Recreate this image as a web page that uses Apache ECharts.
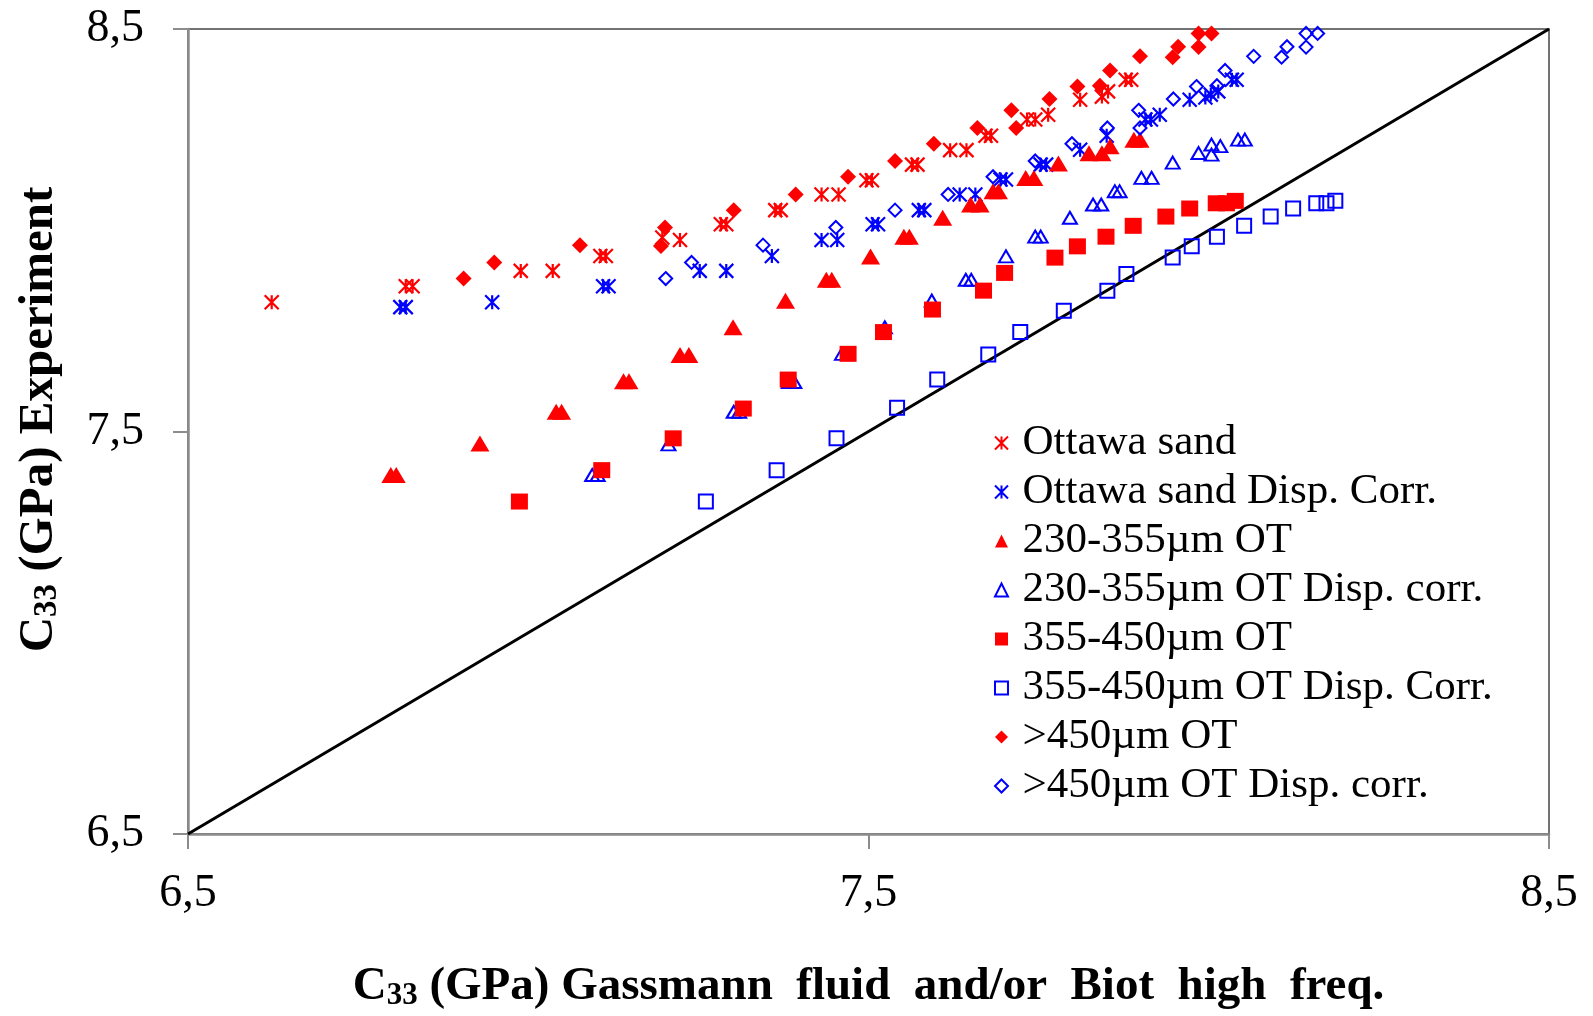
<!DOCTYPE html>
<html><head><meta charset="utf-8">
<script src="https://cdn.jsdelivr.net/npm/echarts@6/dist/echarts.min.js"></script>
<style>html,body{margin:0;padding:0;background:#fff}#c{width:1593px;height:1016px}</style>
</head><body><div id="c"></div>
<script>
// ---- data (x: Gassmann/Biot C33, y: experiment C33, GPa) ----
const seriesNames = ['Ottawa sand','Ottawa sand Disp. Corr.','230-355µm OT','230-355µm OT Disp. corr.','355-450µm OT','355-450µm OT Disp. Corr.','>450µm OT','>450µm OT Disp. corr.'];
const axisTicks = [6.5, 7.5, 8.5];
const identityLine = [[6.5,6.5],[8.5,8.5]];

const ottawaSand = [[6.623,7.821],[6.820,7.861],[6.830,7.861],[6.989,7.899],[7.036,7.899],[7.106,7.936],[7.114,7.936],[7.197,7.982],[7.223,7.976],[7.283,8.015],[7.291,8.015],[7.363,8.050],[7.371,8.050],[7.431,8.089],[7.456,8.089],[7.497,8.124],[7.505,8.124],[7.564,8.163],[7.572,8.163],[7.620,8.199],[7.644,8.199],[7.672,8.235],[7.680,8.235],[7.733,8.275],[7.745,8.275],[7.764,8.287],[7.811,8.324],[7.843,8.332],[7.852,8.345],[7.878,8.374],[7.886,8.374]];
const ottawaSandCorr = [[6.812,7.809],[6.820,7.809],[6.947,7.821],[7.110,7.861],[7.118,7.861],[7.252,7.899],[7.291,7.899],[7.358,7.936],[7.431,7.976],[7.454,7.976],[7.506,8.015],[7.514,8.015],[7.574,8.050],[7.582,8.050],[7.634,8.089],[7.657,8.089],[7.694,8.126],[7.702,8.126],[7.753,8.163],[7.761,8.163],[7.811,8.200],[7.850,8.235],[7.907,8.275],[7.915,8.275],[7.928,8.287],[7.972,8.324],[7.995,8.330],[8.003,8.337],[8.014,8.345],[8.034,8.374],[8.041,8.374]];
const ot230 = [[6.798,7.392],[6.806,7.392],[6.929,7.470],[7.041,7.549],[7.049,7.549],[7.140,7.625],[7.148,7.625],[7.223,7.690],[7.236,7.690],[7.301,7.759],[7.378,7.825],[7.438,7.877],[7.446,7.877],[7.503,7.935],[7.552,7.984],[7.560,7.984],[7.609,8.031],[7.650,8.064],[7.664,8.064],[7.683,8.097],[7.691,8.097],[7.731,8.130],[7.743,8.130],[7.779,8.166],[7.824,8.191],[7.843,8.191],[7.855,8.209],[7.890,8.225],[7.899,8.225]];
const ot230Corr = [[7.094,7.392],[7.102,7.392],[7.206,7.468],[7.302,7.549],[7.310,7.549],[7.383,7.623],[7.391,7.623],[7.461,7.693],[7.524,7.759],[7.593,7.825],[7.643,7.877],[7.651,7.877],[7.702,7.935],[7.745,7.984],[7.753,7.984],[7.796,8.031],[7.830,8.064],[7.842,8.064],[7.862,8.097],[7.869,8.097],[7.901,8.130],[7.916,8.130],[7.947,8.168],[7.985,8.192],[8.004,8.188],[8.004,8.213],[8.017,8.209],[8.043,8.225],[8.053,8.225]];
const ot355 = [[6.987,7.326],[7.108,7.404],[7.213,7.483],[7.316,7.557],[7.382,7.629],[7.470,7.693],[7.522,7.747],[7.594,7.803],[7.669,7.850],[7.700,7.894],[7.774,7.932],[7.807,7.960],[7.849,7.984],[7.889,8.011],[7.937,8.034],[7.972,8.054],[8.011,8.067],[8.026,8.067],[8.039,8.073]];
const ot355Corr = [[7.261,7.326],[7.365,7.404],[7.453,7.483],[7.542,7.559],[7.601,7.629],[7.676,7.691],[7.723,7.747],[7.787,7.800],[7.851,7.850],[7.879,7.891],[7.947,7.932],[7.975,7.960],[8.012,7.984],[8.052,8.011],[8.091,8.034],[8.124,8.054],[8.158,8.067],[8.173,8.067],[8.186,8.073]];
const ot450 = [[6.905,7.880],[6.950,7.920],[7.076,7.963],[7.195,7.961],[7.201,8.007],[7.302,8.050],[7.393,8.089],[7.470,8.133],[7.539,8.172],[7.596,8.215],[7.660,8.254],[7.710,8.298],[7.717,8.254],[7.766,8.326],[7.807,8.357],[7.840,8.359],[7.855,8.397],[7.899,8.432],[7.947,8.430],[7.955,8.456],[7.985,8.455],[7.985,8.489],[8.004,8.489]];
const ot450Corr = [[7.202,7.880],[7.240,7.920],[7.345,7.963],[7.452,8.007],[7.539,8.050],[7.617,8.089],[7.683,8.133],[7.745,8.172],[7.799,8.215],[7.851,8.254],[7.897,8.298],[7.899,8.254],[7.948,8.326],[7.982,8.357],[8.012,8.359],[8.024,8.397],[8.066,8.432],[8.107,8.430],[8.115,8.456],[8.143,8.455],[8.143,8.489],[8.160,8.489]];

const SERIF = "'Liberation Serif','Times New Roman',serif";
const RED = '#ff0000', BLUE = '#0000ff';
const ASTER = 'path://M0,0L10,10M10,0L0,10M5,0L5,10';
const TRI = 'path://M0,10L5,0L10,10Z';
const SQR = 'path://M0,0L10,0L10,10L0,10Z';
const DIA = 'path://M5,0L10,5L5,10L0,5Z';

function filled(name, data, symbol, size, color){
  return {name, type:'scatter', data, symbol, symbolSize:size, itemStyle:{color, borderWidth:0, opacity:1}};
}
function hollow(name, data, symbol, size, color){
  return {name, type:'scatter', data, symbol, symbolSize:size, itemStyle:{color:'rgba(255,255,255,0)', borderColor:color, borderWidth:2, opacity:1}};
}
function star(name, data, color){
  return {name, type:'scatter', data, symbol:ASTER, symbolSize:[14,14], itemStyle:{color, borderColor:color, borderWidth:2.2, opacity:1}};
}

const chart = echarts.init(document.getElementById('c'), null, {renderer:'canvas'});
const fmt = v => String(v).replace('.', ',');
const axisCommon = {
  type:'value', min:axisTicks[0], max:axisTicks[axisTicks.length-1], interval:1,
  splitLine:{show:false},
  axisLine:{show:true, onZero:false, lineStyle:{color:'#8c8c8c', width:2.5}},
  axisTick:{show:true, inside:false, length:15, lineStyle:{color:'#8c8c8c', width:2}},
};
const titleRich = {
  m:{fontFamily:SERIF, fontWeight:'bold', fontSize:47, lineHeight:48, color:'#000'},
  s:{fontFamily:SERIF, fontWeight:'bold', fontSize:31, lineHeight:18, verticalAlign:'bottom', color:'#000'}
};
const titleRichY = {
  m:{fontFamily:SERIF, fontWeight:'bold', fontSize:49, lineHeight:49, color:'#000'},
  s:{fontFamily:SERIF, fontWeight:'bold', fontSize:33, lineHeight:18, verticalAlign:'bottom', color:'#000'}
};
chart.setOption({
  animation:false,
  backgroundColor:'#fff',
  grid:{left:188, right:44, top:29, bottom:179, show:true, borderColor:'#454545', borderWidth:1.5, backgroundColor:'transparent'},
  legend:{
    data:seriesNames, orient:'vertical', left:989, top:416,
    itemWidth:32, itemHeight:13, itemGap:5,
    textStyle:{fontFamily:SERIF, fontSize:43, lineHeight:44, color:'#000'},
    selectedMode:false
  },
  xAxis:Object.assign({}, axisCommon, {
    axisLabel:{formatter:fmt, fontFamily:SERIF, fontSize:46, color:'#000', margin:37},
    name:'{m|C}{s|33}{m| (GPa) Gassmann  fluid  and/or  Biot  high  freq.}',
    nameLocation:'middle', nameGap:129,
    nameTextStyle:{rich:titleRich}
  }),
  yAxis:Object.assign({}, axisCommon, {
    axisLabel:{formatter:fmt, fontFamily:SERIF, fontSize:46, color:'#000', margin:44},
    name:'{m|C}{s|33}{m| (GPa) Experiment}',
    nameLocation:'middle', nameGap:124,
    nameTextStyle:{rich:titleRichY, padding:[0,0,0,24]}
  }),
  series:[
    {name:'identity', type:'line', data:identityLine, symbol:'none', lineStyle:{color:'#000', width:3}, z:1, silent:true},
    star(seriesNames[0], ottawaSand, RED),
    star(seriesNames[1], ottawaSandCorr, BLUE),
    filled(seriesNames[2], ot230, TRI, [19,16], RED),
    hollow(seriesNames[3], ot230Corr, TRI, [14,12], BLUE),
    filled(seriesNames[4], ot355, SQR, [17,16], RED),
    hollow(seriesNames[5], ot355Corr, SQR, [14,14], BLUE),
    filled(seriesNames[6], ot450, DIA, [16,16], RED),
    hollow(seriesNames[7], ot450Corr, DIA, [13,13], BLUE)
  ]
});
</script></body></html>
